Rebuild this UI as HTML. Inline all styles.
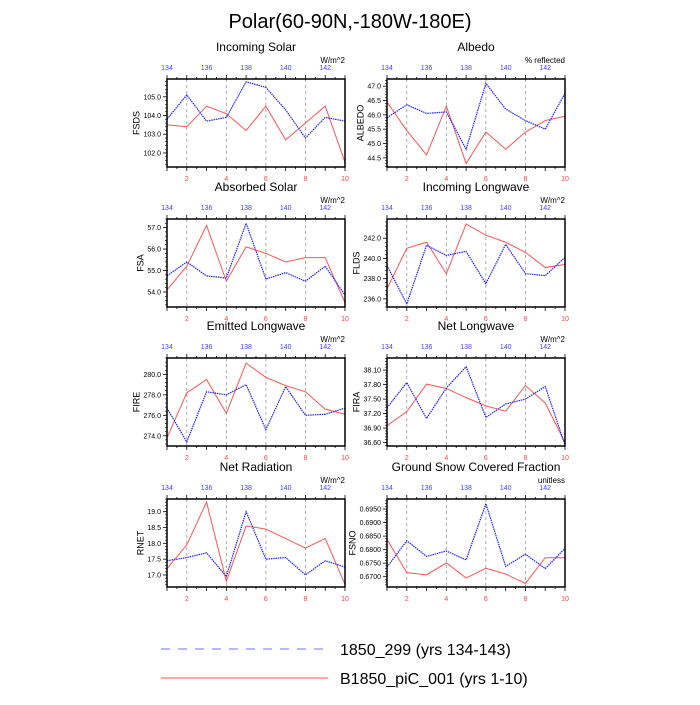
<!DOCTYPE html>
<html><head><meta charset="utf-8"><style>
body{margin:0;background:#fff;}
svg{font-family:"Liberation Sans",sans-serif;}
</style></head><body>
<svg id="c" width="700" height="700" xmlns="http://www.w3.org/2000/svg">
<text x="350" y="28" text-anchor="middle" font-size="20">Polar(60-90N,-180W-180E)</text>
<g>
<line x1="161" y1="649" x2="328" y2="649" stroke="#44f" stroke-width="0.8" stroke-dasharray="9,8"/>
<text x="340" y="655" font-size="16">1850_299 (yrs 134-143)</text>
<line x1="161" y1="678" x2="328" y2="678" stroke="#f55" stroke-width="1"/>
<text x="340" y="684" font-size="16">B1850_piC_001 (yrs 1-10)</text>
</g>
</svg>
<script>
const xCats=[1,2,3,4,5,6,7,8,9,10];
const topYears=[134,136,138,140,142];
const titles=["Incoming Solar","Albedo","Absorbed Solar","Incoming Longwave","Emitted Longwave","Net Longwave","Net Radiation","Ground Snow Covered Fraction"];
const yTitles=["FSDS","ALBEDO","FSA","FLDS","FIRE","FIRA","RNET","FSNO"];
const units=["W/m^2","% reflected","W/m^2","W/m^2","W/m^2","W/m^2","W/m^2","unitless"];
const yMins=[101.25,44.18,53.3,235.2,273.0,36.53,16.62,0.6662];
const yMaxs=[105.95,47.25,57.4,243.9,281.6,38.35,19.4,0.6987];
const yTickStart=[102,44.5,54,236,274,36.6,17,0.67];
const yTickStep=[1,0.5,1,2,2,0.3,0.5,0.005];
const yTickDec=[1,1,1,1,1,2,1,4];
const blueSeries=[
[103.8,105.1,103.7,103.9,105.8,105.5,104.3,102.8,103.9,103.7],
[45.9,46.35,46.05,46.1,44.8,47.1,46.2,45.8,45.5,46.75],
[54.75,55.4,54.75,54.65,57.2,54.6,54.9,54.5,55.2,53.85],
[239.3,235.5,241.3,240.3,240.7,237.5,241.4,238.5,238.3,240.1],
[276.7,273.4,278.3,278.0,279.0,274.6,278.8,276.0,276.1,276.7],
[37.32,37.84,37.10,37.73,38.17,37.12,37.40,37.50,37.76,36.55],
[17.45,17.55,17.7,16.95,19.0,17.5,17.55,17.0,17.45,17.25],
[0.6735,0.6833,0.6775,0.6795,0.6762,0.6970,0.6738,0.6783,0.6730,0.6805]];
const redSeries=[
[103.5,103.4,104.5,104.1,103.2,104.5,102.7,103.6,104.5,101.5],
[46.45,45.45,44.6,46.3,44.3,45.4,44.8,45.4,45.8,45.95],
[54.1,55.2,57.1,54.5,56.1,55.8,55.4,55.6,55.6,53.5],
[237.0,241.0,241.6,238.5,243.4,242.3,241.6,240.6,239.1,239.4],
[273.8,278.2,279.5,276.2,281.1,279.7,278.9,278.3,276.6,276.1],
[36.95,37.24,37.81,37.72,37.53,37.36,37.25,37.78,37.42,36.60],
[17.2,17.95,19.3,16.8,18.55,18.45,18.15,17.85,18.15,16.7],
[0.6838,0.6715,0.6707,0.6751,0.6695,0.6731,0.6710,0.6675,0.6770,0.6770]];

const NS="http://www.w3.org/2000/svg";
const svg=document.getElementById('c');
function mk(tag,attrs,parent){const e=document.createElementNS(NS,tag);for(const k in attrs)e.setAttribute(k,attrs[k]);(parent||svg).appendChild(e);return e;}
const lefts=[167,387],W=178,H=88,tops=[79,219,358,499];
for(let p=0;p<8;p++){
  const L=lefts[p%2],T=tops[Math.floor(p/2)];
  const g=mk('g',{});
  
  
  const xs=v=>L+(v-1)/9*W;
  const ys=v=>T+H-(v-yMins[p])/(yMaxs[p]-yMins[p])*H;
  let t=mk('text',{x:L+W/2,y:T-28,'text-anchor':'middle','font-size':12},g);t.textContent=titles[p];
  
  t=mk('text',{x:L+W,y:T-16,'text-anchor':'end','font-size':8},g);t.textContent=units[p];
  
  [2,4,6,8].forEach(v=>{const l=mk('line',{x1:xs(v),x2:xs(v),y1:T,y2:T+H,stroke:'#999','stroke-width':0.8,'stroke-dasharray':'3,3'},g);
    
    const tl=mk('text',{x:xs(v),y:T+H+14,'text-anchor':'middle','font-size':7,fill:'#f44'},g);tl.textContent=v;
    });
  let tl=mk('text',{x:xs(10),y:T+H+14,'text-anchor':'middle','font-size':7,fill:'#f44'},g);tl.textContent=10;
  
  for(let v=1;v<=10;v+=0.5){const maj=(v%1===0);
    mk('line',{x1:xs(v),x2:xs(v),y1:T+H,y2:T+H+(maj?4:2),stroke:'#000','stroke-width':0.8},g);
    mk('line',{x1:xs(v),x2:xs(v),y1:T,y2:T-(maj?4:2),stroke:'#000','stroke-width':0.8},g);}
  topYears.forEach(yr=>{const tt=mk('text',{x:xs(yr-133),y:T-9,'text-anchor':'middle','font-size':7,fill:'#44f'},g);tt.textContent=yr;
    });
  const st=yTickStep[p];
  let maxW=0;
  for(let i=-1;i<20;i++){const v=yTickStart[p]+i*st;if(v<yMins[p]-1e-9)continue;if(v>yMaxs[p])break;
    const y=ys(v);mk('line',{x1:L,x2:L-4,y1:y,y2:y,stroke:'#000','stroke-width':0.8},g);
    const yl=mk('text',{x:L-6,y:y+2.5,'text-anchor':'end','font-size':7},g);yl.textContent=v.toFixed(yTickDec[p]);
    
    maxW=Math.max(maxW,yl.getComputedTextLength());
    for(let k=1;k<5;k++){const vv=v+k*st/5;if(vv<=yMaxs[p]){mk('line',{x1:L,x2:L-2,y1:ys(vv),y2:ys(vv),stroke:'#000','stroke-width':0.6},g);}}
    for(let k=1;k<5;k++){const vv=v-k*st/5;if(vv>=yMins[p]&&i===0){mk('line',{x1:L,x2:L-2,y1:ys(vv),y2:ys(vv),stroke:'#000','stroke-width':0.6},g);}}
  }
  const tx=L-6-maxW-4;
  const yt=mk('text',{x:tx,y:T+H/2,'text-anchor':'middle','font-size':9,transform:`rotate(-90 ${tx} ${T+H/2})`},g);yt.textContent=yTitles[p];
  
  const rp=mk('polyline',{points:xCats.map((x,i)=>xs(x)+','+ys(redSeries[p][i])).join(' '),fill:'none',stroke:'#f55','stroke-width':1},g);
  
  const bp=mk('polyline',{points:xCats.map((x,i)=>xs(x)+','+ys(blueSeries[p][i])).join(' '),fill:'none',stroke:'#22f','stroke-width':1.2,'stroke-dasharray':'1.5,0.8'},g);
  
  const fr=mk('rect',{x:L,y:T,width:W,height:H,fill:'none',stroke:'#000','stroke-width':1.5},g);
  
}
</script>
</body></html>
